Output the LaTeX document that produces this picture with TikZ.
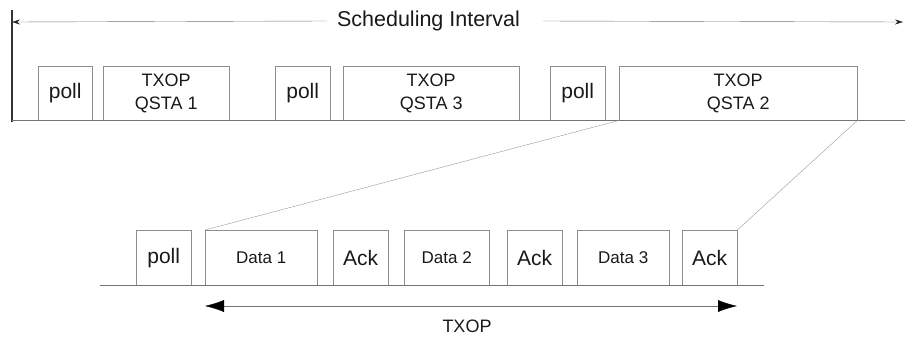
\documentclass[tikz,border=0pt]{standalone}
\usepackage{fontspec}
\setmainfont{Liberation Sans}
\usetikzlibrary{arrows.meta,positioning}

\begin{document}
\begin{tikzpicture}[
    x=1pt,y=-1pt,
    slot/.style={rectangle,draw=black!45,thin,inner sep=0pt,anchor=north west,
        align=center,text=black!90,minimum height=54pt,
        font=\fontsize{21}{24}\selectfont},
    txop slot/.style={slot,font=\fontsize{18}{23}\selectfont},
    data slot/.style={slot,font=\fontsize{17}{20}\selectfont},
    time line/.style={draw=black!55,thin},
    zoom line/.style={draw=black!40,thin}
]
 \useasboundingbox (0,0) rectangle (905,338);

 % scheduling interval
 \coordinate (si1) at (12,22);
 \coordinate (si2) at (903,22);
 \node[inner xsep=10pt,text=black!90,font=\fontsize{21.5}{24}\selectfont]
    (silabel) at (428.5,21) {Scheduling Interval};
 \draw[time line,-{Stealth[length=8pt,width=5pt,color=black!85]}] (silabel.west) -- (si1);
 \draw[time line,-{Stealth[length=8pt,width=5pt,color=black!85]}] ([xshift=13pt]silabel.east) -- (si2);
 \draw[line width=2pt,black!80] (12,10) coordinate (v1) -- (12,122) coordinate (v2);

 % upper time line
 \node[slot,minimum width=54pt] (poll1) at (38,66) {poll};
 \node[txop slot,minimum width=126pt] (q1) at (103,66) {TXOP\\QSTA 1};
 \node[slot,minimum width=55pt] (poll2) at (275,66) {poll};
 \node[txop slot,minimum width=176pt] (q3) at (343,66) {TXOP\\QSTA 3};
 \node[slot,minimum width=55pt] (poll3) at (550,66) {poll};
 \node[txop slot,minimum width=238pt] (q2) at (619,66) {TXOP\\QSTA 2};
 \coordinate (up1) at (12,120);
 \coordinate (up2) at (905,120);
 \draw[time line] (up1) -- (up2);

 % lower time line
 \node[slot,minimum width=55pt,minimum height=55pt] (poll4) at (136,230) {poll};
 \node[data slot,minimum width=112pt,minimum height=55pt] (d1) at (205,230) {Data 1};
 \node[slot,minimum width=55pt,minimum height=55pt] (a1) at (333,230) {Ack};
 \node[data slot,minimum width=85pt,minimum height=55pt] (d2) at (404,230) {Data 2};
 \node[slot,minimum width=55pt,minimum height=55pt] (a2) at (507,230) {Ack};
 \node[data slot,minimum width=92pt,minimum height=55pt] (d3) at (577,230) {Data 3};
 \node[slot,minimum width=55pt,minimum height=55pt] (a3) at (682,230) {Ack};
 \coordinate (lo1) at (100,285);
 \coordinate (lo2) at (764,285);
 \draw[time line] (lo1) -- (lo2);

 % zoom
 \draw[zoom line] (q2.south west) -- (d1.north west);
 \draw[zoom line] (q2.south east) -- (a3.north east);

 % TXOP
 \coordinate (tx1) at (205,306);
 \coordinate (tx2) at (737,306);
 \draw[time line,{Latex[length=19pt,width=12pt,color=black]}-{Latex[length=19pt,width=12pt,color=black]}] (tx1) -- (tx2);
 \node[text=black!90,font=\fontsize{18}{20}\selectfont] (txlabel) at (467,326) {TXOP};
\end{tikzpicture}
\end{document}
